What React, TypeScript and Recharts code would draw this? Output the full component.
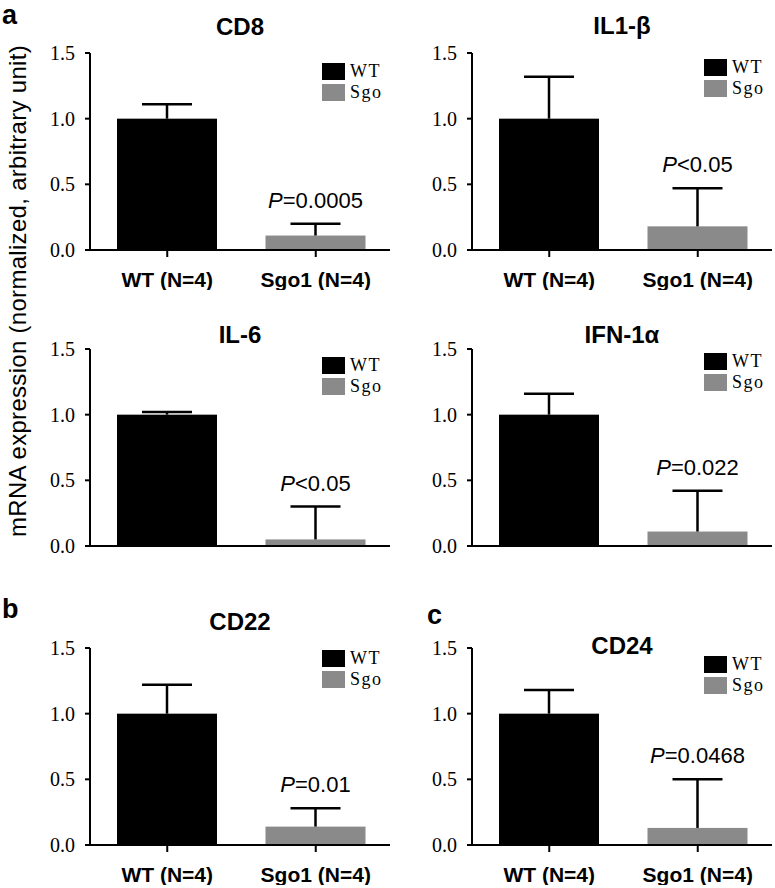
import { BarChart, Bar, XAxis, YAxis } from 'recharts';

const genes = ['CD8', 'IL1-β', 'IL-6', 'IFN-1α', 'CD22', 'CD24'];
const groups = ['WT (N=4)', 'Sgo1 (N=4)'];
const wtMean = [1.0, 1.0, 1.0, 1.0, 1.0, 1.0];
const wtErr = [0.11, 0.32, 0.02, 0.16, 0.22, 0.18];
const sgoMean = [0.11, 0.18, 0.05, 0.11, 0.14, 0.13];
const sgoErr = [0.09, 0.29, 0.25, 0.31, 0.14, 0.37];
const pLabels = ['=0.0005', '<0.05', '<0.05', '=0.022', '=0.01', '=0.0468'];
const legendLabels = ['WT', 'Sgo'];
const yTicks = [0, 0.5, 1.0, 1.5];
const panelLetters = ['a', '', '', '', 'b', 'c'];
const yLabel = 'mRNA expression (normalized, arbitrary unit)';

const colors = ['#000000', '#8a8a8a'];
const sans = 'Arial, "Liberation Sans", sans-serif';
const serif = '"Times New Roman", "Liberation Serif", serif';

// layout of the 3x2 grid
const colLeft = [0, 382];
const rowTop = [0, 296, 595];
const AXIS_X = 90;
const PLOT_TOP = 53;
const PLOT_H = 197;
const titleDy = [-18, -19, -6, -6, -18, 6];
const legendDy = [10, 6, 8, 4, 2, 8];
const letterPos = [
  { x: 2, y: 24 },
  null,
  null,
  null,
  { x: 2, y: 618 },
  { x: 427, y: 624 },
];

function BarWithErr(props: any) {
  const { x, y, width, height, payload, index } = props;
  const unit = height / payload.mean;
  const cx = x + width / 2;
  const capY = y - payload.err * unit;
  return (
    <g>
      <rect x={x} y={y} width={width} height={height} fill={colors[index]} />
      <line x1={cx} x2={cx} y1={y} y2={capY} stroke="#000" strokeWidth={2.5} />
      <line x1={cx - 25} x2={cx + 25} y1={capY} y2={capY} stroke="#000" strokeWidth={2.5} />
      {index === 1 && (
        <text x={cx} y={capY - 16} textAnchor="middle" fontFamily={sans} fontSize={22} fill="#000">
          <tspan fontStyle="italic">P</tspan>
          {payload.p}
        </text>
      )}
    </g>
  );
}

function Panel({ i }: { i: number }) {
  const data = groups.map((g, k) => ({
    group: g,
    mean: k === 0 ? wtMean[i] : sgoMean[i],
    err: k === 0 ? wtErr[i] : sgoErr[i],
    p: pLabels[i],
  }));
  const showLabels = i !== 2 && i !== 3;
  return (
    <div style={{ position: 'absolute', left: colLeft[i % 2], top: rowTop[Math.floor(i / 2)] }}>
      <BarChart
        width={390}
        height={290}
        data={data}
        margin={{ top: PLOT_TOP, right: 0, bottom: 0, left: 0 }}
        barSize={100}
      >
        <XAxis
          dataKey="group"
          height={290 - PLOT_TOP - PLOT_H}
          padding={{ left: 3, right: 0 }}
          interval={0}
          axisLine={{ stroke: '#000', strokeWidth: 2 }}
          tickLine={{ stroke: '#000', strokeWidth: 2 }}
          tickSize={7}
          tickMargin={15}
          tick={
            showLabels
              ? { fill: '#000', fontFamily: sans, fontWeight: 'bold', fontSize: 21 }
              : false
          }
        />
        <YAxis
          width={AXIS_X}
          domain={[0, 1.5]}
          ticks={yTicks}
          interval={0}
          tickFormatter={(v: number) => v.toFixed(1)}
          axisLine={{ stroke: '#000', strokeWidth: 2 }}
          tickLine={{ stroke: '#000', strokeWidth: 2 }}
          tickSize={5}
          tickMargin={10}
          tick={{ fill: '#000', fontFamily: serif, fontSize: 20 }}
        />
        <Bar dataKey="mean" shape={BarWithErr} isAnimationActive={false} />
      </BarChart>
    </div>
  );
}

function Overlay() {
  return (
    <svg
      width={775}
      height={888}
      style={{ position: 'absolute', left: 0, top: 0, pointerEvents: 'none' }}
    >
      {genes.map((g, i) => {
        const ax = colLeft[i % 2] + AXIS_X;
        const top = rowTop[Math.floor(i / 2)] + PLOT_TOP;
        return (
          <g key={g}>
            <text
              x={ax + 150}
              y={top + titleDy[i]}
              textAnchor="middle"
              fontFamily={sans}
              fontWeight="bold"
              fontSize={24}
              fill="#000"
            >
              {g}
            </text>
            {legendLabels.map((l, k) => (
              <g key={l}>
                <rect x={ax + 232} y={top + legendDy[i] + k * 21} width={23} height={17} fill={colors[k]} />
                <text
                  x={ax + 260}
                  y={top + legendDy[i] + k * 21 + 14}
                  fontFamily={serif}
                  fontSize={18}
                  letterSpacing={1.5}
                  fill="#000"
                >
                  {l}
                </text>
              </g>
            ))}
          </g>
        );
      })}
      {panelLetters.map((c, i) =>
        c && letterPos[i] ? (
          <text key={c} x={letterPos[i]!.x} y={letterPos[i]!.y} fontFamily={sans} fontWeight="bold" fontSize={27} fill="#000">
            {c}
          </text>
        ) : null
      )}
      <text
        x={0}
        y={0}
        transform="translate(26, 291) rotate(-90)"
        textAnchor="middle"
        fontFamily={sans}
        fontSize={24}
        letterSpacing={0.3}
        fill="#000"
      >
        {yLabel}
      </text>
    </svg>
  );
}

export default function App() {
  return (
    <div style={{ position: 'absolute', left: 0, top: 0, width: 775, height: 888, background: '#fff' }}>
      {genes.map((g, i) => (
        <Panel key={g} i={i} />
      ))}
      <Overlay />
    </div>
  );
}
